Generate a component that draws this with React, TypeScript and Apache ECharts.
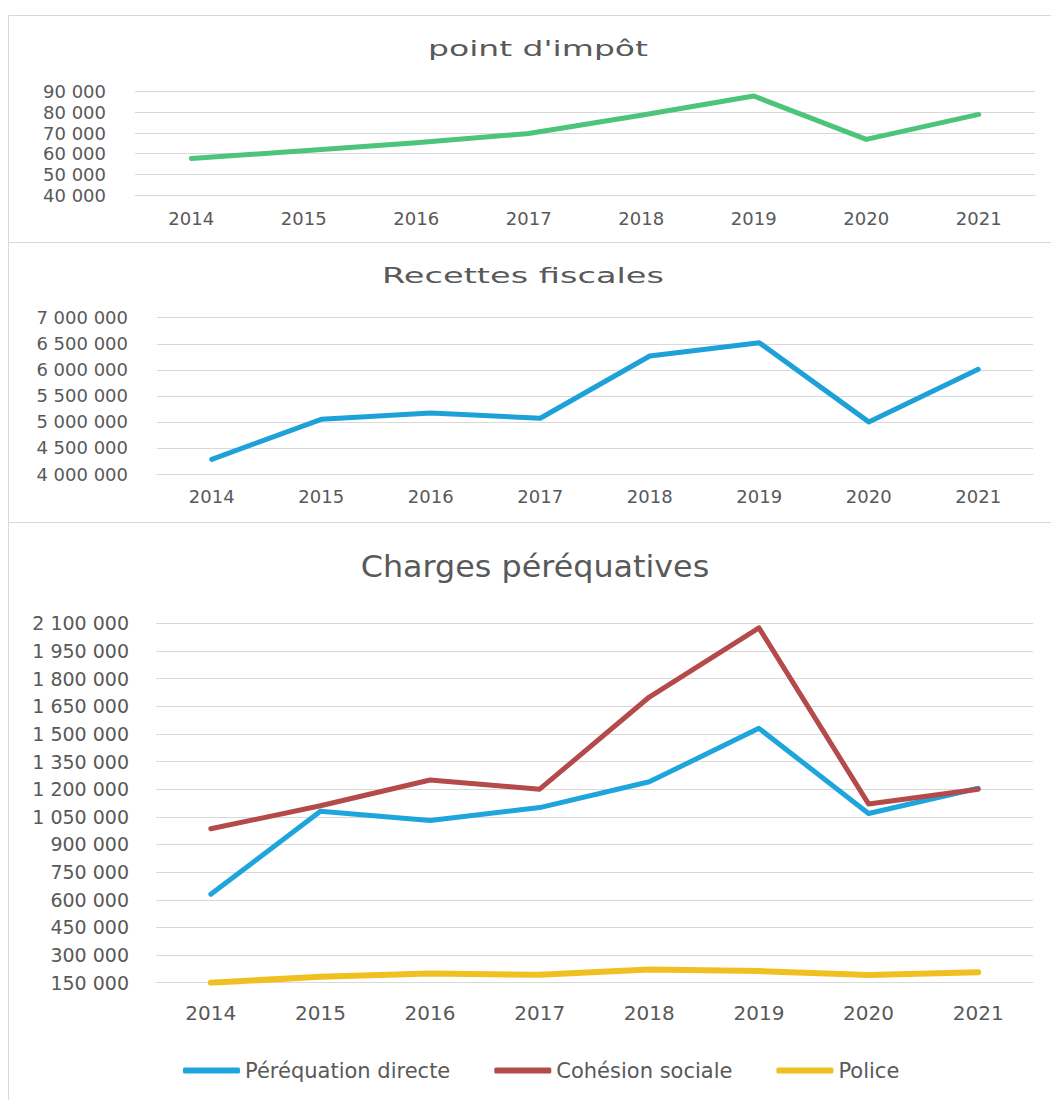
import React, { useEffect, useRef } from "react";
import * as echarts from "echarts";

const years = ["2014", "2015", "2016", "2017", "2018", "2019", "2020", "2021"];
const pointImpot = [57700, 61400, 65300, 69800, 78600, 87900, 66900, 79000];
const recettesFiscales = [4280000, 5050000, 5170000, 5070000, 6265000, 6520000, 5000000, 6010000];
const perequationDirecte = [630000, 1080000, 1030000, 1100000, 1240000, 1530000, 1068000, 1205000];
const cohesionSociale = [985000, 1110000, 1250000, 1200000, 1700000, 2075000, 1120000, 1200000];
const police = [150000, 182000, 200000, 193000, 222000, 213000, 192000, 207000];

const titles = ["point d'impôt", "Recettes fiscales", "Charges péréquatives"];
const seriesNames = ["Péréquation directe", "Cohésion sociale", "Police"];

const FONT = "DejaVu Sans";
const TXT = "#595959";
const GRID = "#d9d9d9";

const fmt = (v: number) => String(v).replace(/\B(?=(\d{3})+(?!\d))/g, " ");

export default function App() {
  const ref = useRef<HTMLDivElement>(null);
  useEffect(() => {
    if (!ref.current) return;
    const chart = echarts.init(ref.current, null, { renderer: "svg" });
    const xAxisBase = (gridIndex: number, fontSize: number, margin: number) => ({
      type: "category",
      gridIndex,
      data: years,
      boundaryGap: true,
      axisTick: { show: false },
      axisLine: { show: true, lineStyle: { color: GRID, width: 1 } },
      axisLabel: { color: TXT, fontSize, fontFamily: FONT, margin },
    });
    const yAxisBase = (gridIndex: number, min: number, max: number, interval: number, fontSize: number, margin: number) => ({
      type: "value",
      gridIndex,
      min,
      max,
      interval,
      axisLine: { show: false },
      axisTick: { show: false },
      splitLine: { show: true, lineStyle: { color: GRID, width: 1 } },
      axisLabel: { color: TXT, fontSize, fontFamily: FONT, margin, formatter: fmt },
    });
    const lineSeries = (name: string, data: number[], color: string, idx: number, width = 5) => ({
      type: "line",
      name,
      data,
      xAxisIndex: idx,
      yAxisIndex: idx,
      symbol: "none",
      color,
      lineStyle: { color, width, cap: "round", join: "round" },
    });
    const titleText = (text: string, x: number, y: number, size: number, sx: number) => ({
      type: "text",
      x,
      y,
      scaleX: sx,
      silent: true,
      style: {
        text,
        x: 0,
        y: 0,
        fill: TXT,
        font: `${size}px "${FONT}"`,
        textAlign: "center",
        textVerticalAlign: "middle",
      },
    });
    chart.setOption({
      animation: false,
      backgroundColor: "#ffffff",
      grid: [
        { left: 135, right: 16, top: 91.7, height: 103.3, containLabel: false },
        { left: 157, right: 18, top: 317.7, height: 156.3, containLabel: false },
        { left: 156, right: 18, top: 623.3, height: 359.4, containLabel: false },
      ],
      xAxis: [xAxisBase(0, 18, 14), xAxisBase(1, 18, 13), xAxisBase(2, 20, 20)],
      yAxis: [
        yAxisBase(0, 40000, 90000, 10000, 18, 29),
        yAxisBase(1, 4000000, 7000000, 500000, 18, 29),
        yAxisBase(2, 150000, 2100000, 150000, 19, 27),
      ],
      legend: {
        data: seriesNames,
        left: 178,
        top: 1055,
        icon: "roundRect",
        itemWidth: 57,
        itemHeight: 6,
        itemGap: 44,
        textStyle: { color: TXT, fontSize: 21, fontFamily: FONT },
      },
      graphic: [
        { type: "rect", silent: true, shape: { x: 8.5, y: 15.5, width: 1100, height: 227 }, style: { fill: "none", stroke: GRID, lineWidth: 1 } },
        { type: "rect", silent: true, shape: { x: 8.5, y: 242.5, width: 1100, height: 280 }, style: { fill: "none", stroke: GRID, lineWidth: 1 } },
        { type: "rect", silent: true, shape: { x: 8.5, y: 522.5, width: 1100, height: 620 }, style: { fill: "none", stroke: GRID, lineWidth: 1 } },
        titleText(titles[0], 538, 49, 22, 1.5),
        titleText(titles[1], 523, 276, 21, 1.6),
        titleText(titles[2], 535, 566, 30, 1.06),
      ],
      series: [
        lineSeries("point d'impôt", pointImpot, "#4cc47a", 0),
        lineSeries("Recettes fiscales", recettesFiscales, "#1ea1d8", 1),
        lineSeries(seriesNames[0], perequationDirecte, "#1ea6dc", 2),
        lineSeries(seriesNames[1], cohesionSociale, "#b44a4a", 2),
        lineSeries(seriesNames[2], police, "#f0c020", 2, 6),
      ],
    });
    return () => chart.dispose();
  }, []);
  return (
    <div
      ref={ref}
      style={{ position: "absolute", left: 0, top: 0, width: 1051, height: 1100, background: "#fff" }}
    />
  );
}
